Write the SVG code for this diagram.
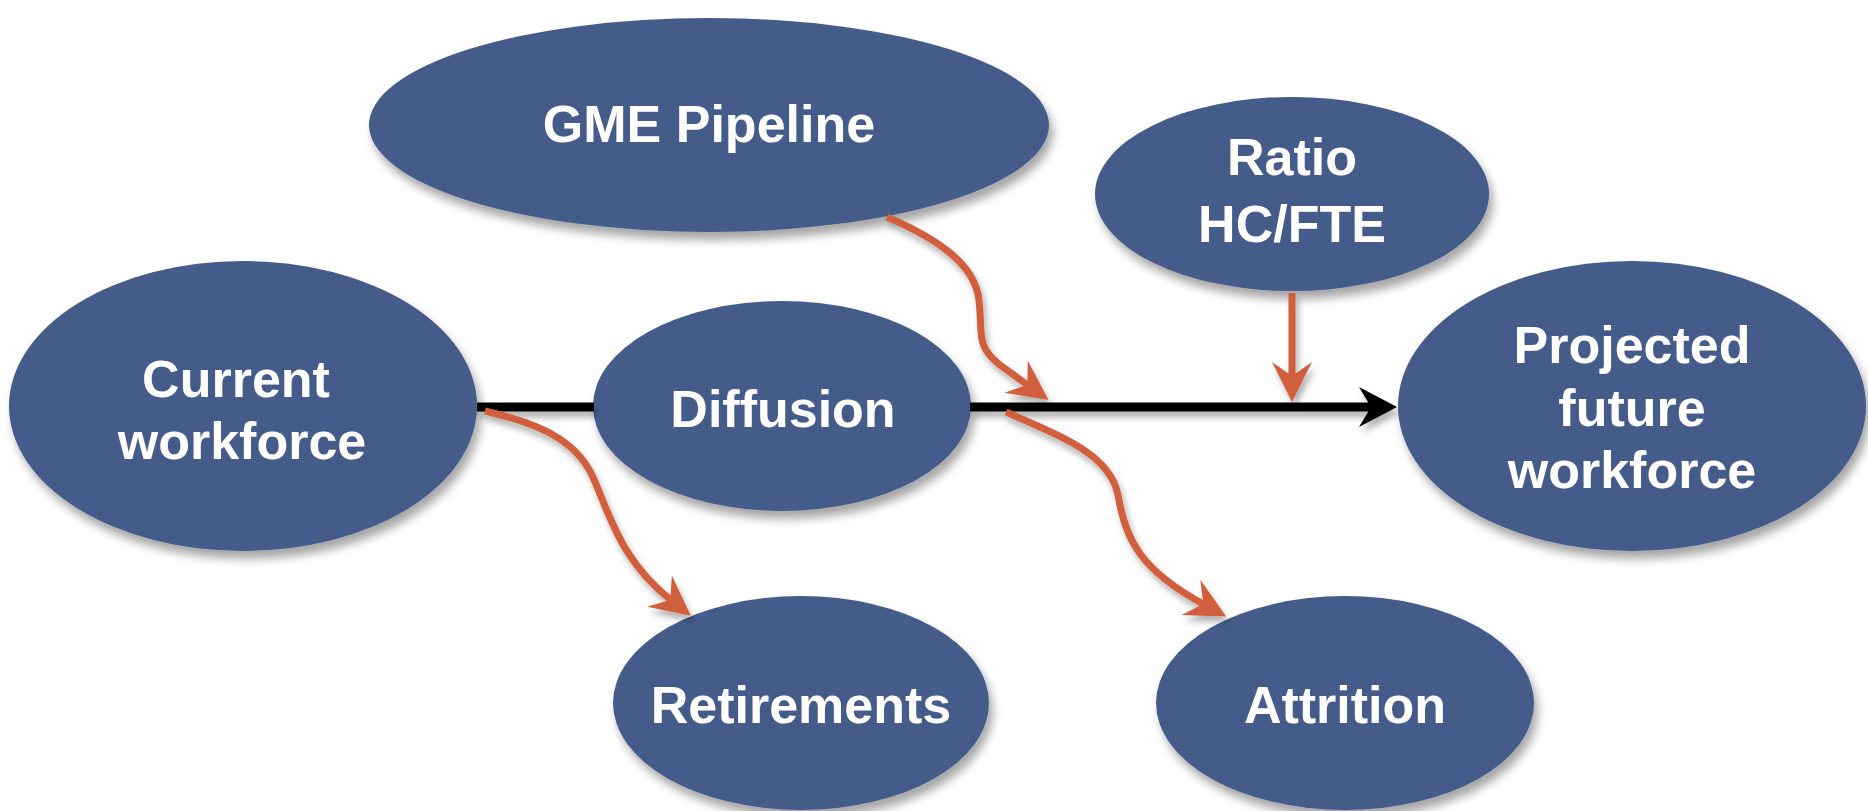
<svg xmlns="http://www.w3.org/2000/svg" width="1868" height="811" viewBox="0 0 1868 811">
<defs>
<style>
.node{fill:#445C8B;filter:url(#sh);}
.lbl{font-family:"Liberation Sans",Arial,sans-serif;font-weight:bold;font-size:52px;fill:#ffffff;text-anchor:middle;}
.org{fill:none;stroke:#D15F3D;stroke-width:7;}
.blk{fill:none;stroke:#000000;stroke-width:9;}
</style>
<filter id="sh" x="-10%" y="-10%" width="125%" height="130%">
<feDropShadow dx="4" dy="8" stdDeviation="5" flood-color="#000" flood-opacity="0.35"/>
</filter>
<filter id="sh2" filterUnits="userSpaceOnUse" x="0" y="0" width="1868" height="811">
<feDropShadow dx="3" dy="6" stdDeviation="3" flood-color="#000" flood-opacity="0.3"/>
</filter>
<marker id="ao" markerUnits="userSpaceOnUse" markerWidth="42" markerHeight="42" viewBox="0 0 42 42" refX="16" refY="20" orient="auto">
<path d="M40,20 L0,0 L14,20 L0,40 Z" fill="#D15F3D"/>
</marker>
<marker id="ab" markerUnits="userSpaceOnUse" markerWidth="42" markerHeight="42" viewBox="0 0 42 42" refX="16" refY="20" orient="auto">
<path d="M40,20 L2,0 L14,20 L2,40 Z" fill="#000000"/>
</marker>
</defs>
<g id="gme"><ellipse class="node" cx="709" cy="125" rx="340" ry="107"/><text class="lbl" x="709" y="142">GME Pipeline</text></g>
<g id="ratio"><ellipse class="node" cx="1292" cy="194" rx="197" ry="97"/><text class="lbl" x="1292" y="175">Ratio</text><text class="lbl" x="1292" y="242">HC/FTE</text></g>
<g id="current"><ellipse class="node" cx="243" cy="406" rx="234" ry="145"/><text class="lbl" x="236" y="397">Current</text><text class="lbl" x="242" y="459">workforce</text></g>
<g id="diffusion"><ellipse class="node" cx="782" cy="406" rx="189" ry="105"/><text class="lbl" x="783" y="427">Diffusion</text></g>
<g id="projected"><ellipse class="node" cx="1632" cy="406" rx="234" ry="145"/><text class="lbl" x="1632" y="363">Projected</text><text class="lbl" x="1632" y="426">future</text><text class="lbl" x="1632" y="488">workforce</text></g>
<g id="retirements"><ellipse class="node" cx="801" cy="703" rx="188" ry="107"/><text class="lbl" x="801" y="723">Retirements</text></g>
<g id="attrition"><ellipse class="node" cx="1345" cy="703" rx="189" ry="107"/><text class="lbl" x="1345" y="723">Attrition</text></g>
<g id="connectors" filter="url(#sh2)">
<path class="blk" d="M477,407 L594,407"/>
<path class="blk" d="M970,407 L1373,407" marker-end="url(#ab)"/>
<path class="org" d="M887,217 C940,240 975,265 979,300 C983,335 975,345 1000,365 L1029,386" marker-end="url(#ao)"/>
<path class="org" d="M1292,293 L1292,378" marker-end="url(#ao)"/>
<path class="org" d="M485,411 C540,424 575,440 592,475 C610,515 620,560 672,601" marker-end="url(#ao)"/>
<path class="org" d="M1006,412 C1065,438 1110,455 1118,495 C1126,540 1140,570 1205,605" marker-end="url(#ao)"/>
</g>
</svg>
